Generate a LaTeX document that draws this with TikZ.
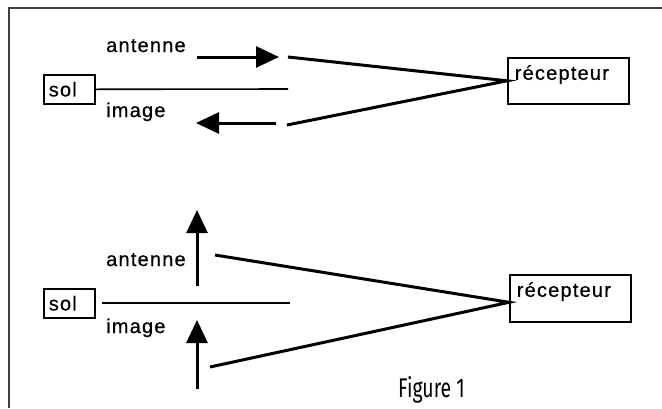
\documentclass[tikz,border=0pt]{standalone}
\usepackage{fontspec}
\setmainfont{Liberation Sans}[LetterSpace=6,FakeBold=0.6]
\newfontfamily\figfont{Fira Sans}[FakeStretch=0.72]
\usetikzlibrary{arrows.meta}
\tikzset{
  lbl/.style={anchor=base west, inner sep=0pt, font=\fontsize{20}{22}\selectfont},
  solbox/.style={draw, line width=1.6pt, anchor=north west, minimum width=51pt, minimum height=29pt,
     text width=41pt, align=left, inner xsep=5pt, inner ysep=0pt, font=\fontsize{20}{22}\selectfont},
  recbox/.style={draw, line width=1.6pt, anchor=north west, text width=107pt, align=left,
     inner xsep=7pt, inner ysep=3pt, text height=19pt, font=\fontsize{20}{22}\selectfont},
  sig/.style={line width=3pt, -{Triangle[length=23pt,width=21pt]}},
  wire/.style={line width=3pt},
  thin/.style={line width=1.6pt},
  frame/.style={line width=1.6pt, draw=black!75}
}
\begin{document}
\begin{tikzpicture}[x=1pt,y=-1pt]
\useasboundingbox (0,0) rectangle (662,408);
\fill[white] (0,0) rectangle (662,408);
% frame
\coordinate (fa) at (662,8);
\coordinate (fb) at (9,8);
\coordinate (fc) at (9,408);
\draw[frame] (fa) -- (fb) -- (fc);

% ---- top diagram
\node[solbox] (sol1) at (43,74) {sol};
\node[recbox, text depth=21pt] (rec1) at (507,57) {récepteur};
\node[lbl] (ant1) at (106,52) {antenne};
\node[lbl] (img1) at (106,117) {image};
\coordinate (s1e) at (288,89);
\draw[thin] (sol1.east) -- (s1e);
\coordinate (a1s) at (197,57);
\coordinate (a1t) at (279,57);
\draw[sig] (a1s) -- (a1t);
\coordinate (a2s) at (276,123);
\coordinate (a2t) at (196,123);
\draw[sig] (a2s) -- (a2t);
\coordinate (l1) at (288,57);
\coordinate (l2) at (287,125);
\draw[wire] (l1) -- (rec1.west) -- (l2);

% ---- bottom diagram
\node[solbox] (sol2) at (43,288) {sol};
\node[recbox, text depth=22pt] (rec2) at (509,274) {récepteur};
\node[lbl] (ant2) at (106,266) {antenne};
\node[lbl] (img2) at (106,333) {image};
\coordinate (s2a) at (102,303);
\coordinate (s2e) at (290,303);
\draw[thin] (s2a) -- (s2e);
\coordinate (u1s) at (197,286);
\coordinate (u1t) at (197,210);
\draw[sig] (u1s) -- (u1t);
\coordinate (u2s) at (197,389);
\coordinate (u2t) at (197,320);
\draw[sig] (u2s) -- (u2t);
\coordinate (m2) at ([yshift=-4pt]rec2.west);
\coordinate (k1) at (215,255);
\coordinate (k2) at (210,367);
\draw[wire] (k1) -- (m2) -- (k2);

\node[anchor=base west, inner sep=0pt, font=\figfont\fontsize{27}{29}\selectfont] (fig) at (398,397) {Figure 1};
\end{tikzpicture}
\end{document}
